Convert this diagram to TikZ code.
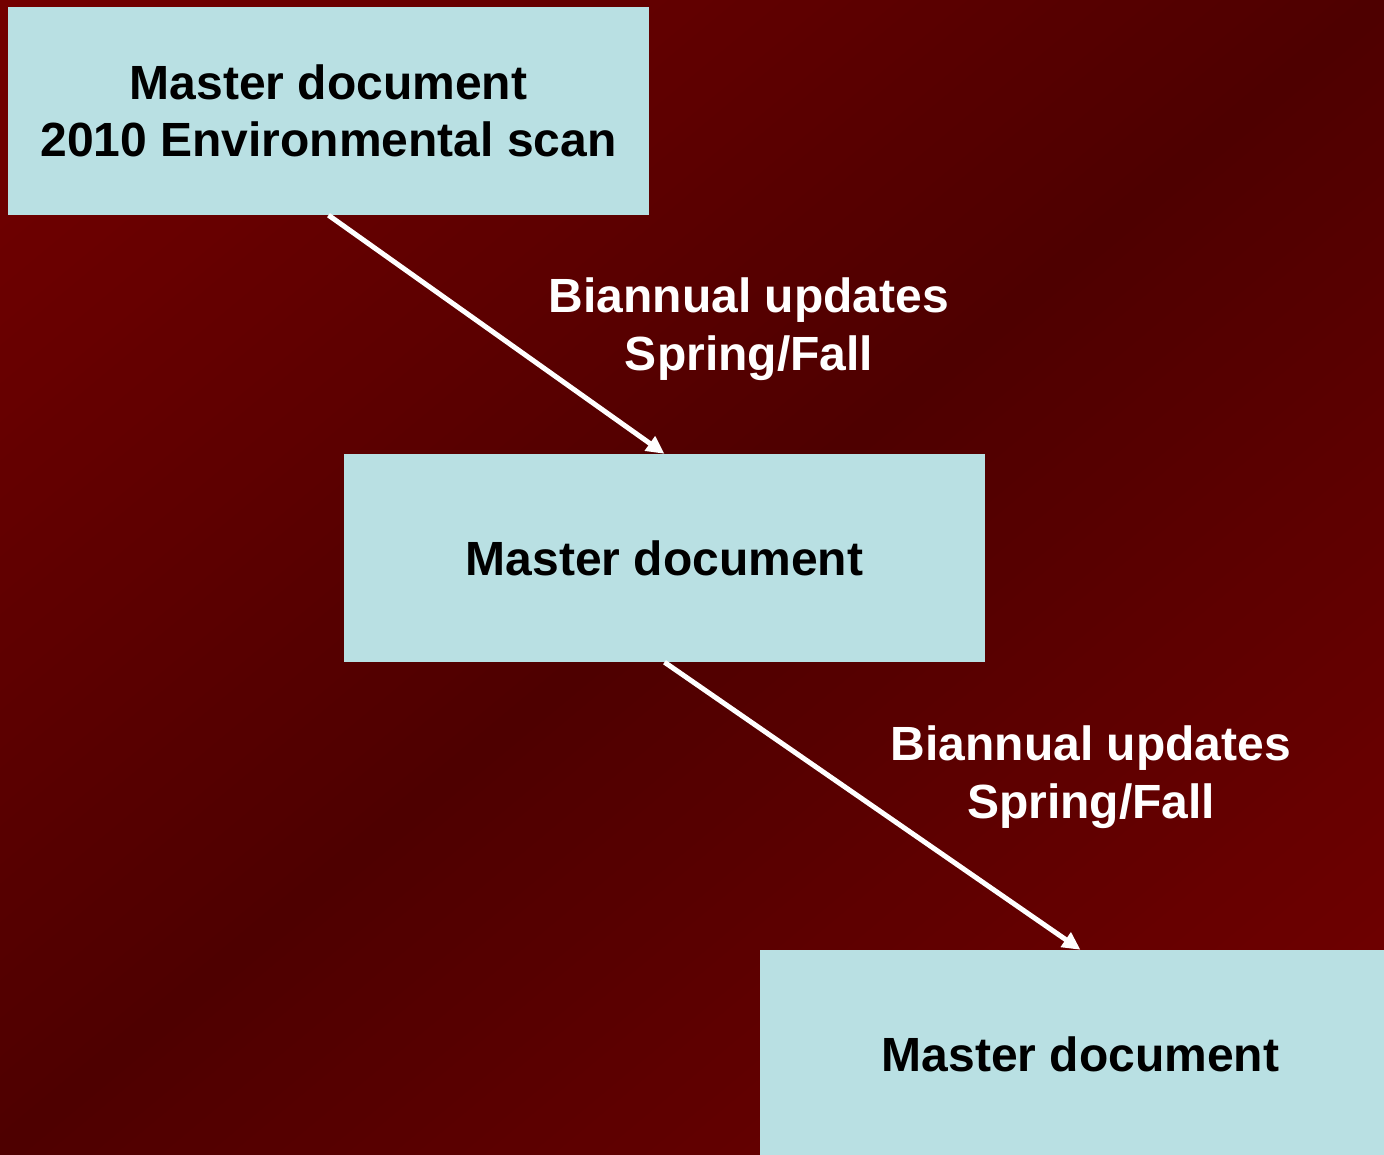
\documentclass[tikz,border=0pt]{standalone}
\usepackage{fontspec}
\setmainfont{Liberation Sans}
\usetikzlibrary{arrows.meta}
\definecolor{bgbright}{RGB}{116,0,0}
\definecolor{bgdark}{RGB}{78,0,0}
\definecolor{boxfill}{RGB}{185,224,227}
\tikzset{
  docbox/.style={fill=boxfill, draw=none, minimum width=641pt, minimum height=208pt,
    inner sep=0pt, align=center, text=black, font=\fontsize{48}{57.5}\selectfont\bfseries},
  lbl/.style={align=center, text=white, inner sep=0pt, font=\fontsize{48}{57.5}\selectfont\bfseries},
  flow/.style={draw=white, line width=5pt, -{Triangle[length=18pt,width=17pt]}}
}
\begin{document}
\begin{tikzpicture}[x=1pt,y=-1pt]
\useasboundingbox (0,0) rectangle (1384,1154);
\clip (0,0) rectangle (1384,1154);
\begin{scope}[x=1384pt,y=-1154pt]
\foreach \i in {0,...,119}{
  \pgfmathsetmacro{\ta}{2*\i/120}
  \pgfmathsetmacro{\tb}{2*(\i+1)/120+0.004}
  \pgfmathsetmacro{\tm}{2*(\i+0.5)/120}
  \pgfmathsetmacro{\pc}{100*abs(\tm-1)}
  \colorlet{stripcol}{bgbright!\pc!bgdark}
  \fill[stripcol] (\ta+2,-2) -- (\ta-2,2) -- (\tb-2,2) -- (\tb+2,-2) -- cycle;
}
\end{scope}
\node[docbox] (b1) at (328.5,111) {Master document\\2010 Environmental scan};
\node[docbox] (b2) at (664.5,558) {Master document};
\node[docbox] (b3) at (1080.5,1054) {Master document};
\node[lbl] (l1) at (749,329) {Biannual updates\\Spring/Fall};
\node[lbl] (l2) at (1091,777) {Biannual updates\\Spring/Fall};
\draw[flow] (b1.south) -- (b2.north);
\draw[flow] (b2.south) -- (b3.north);
\end{tikzpicture}
\end{document}
